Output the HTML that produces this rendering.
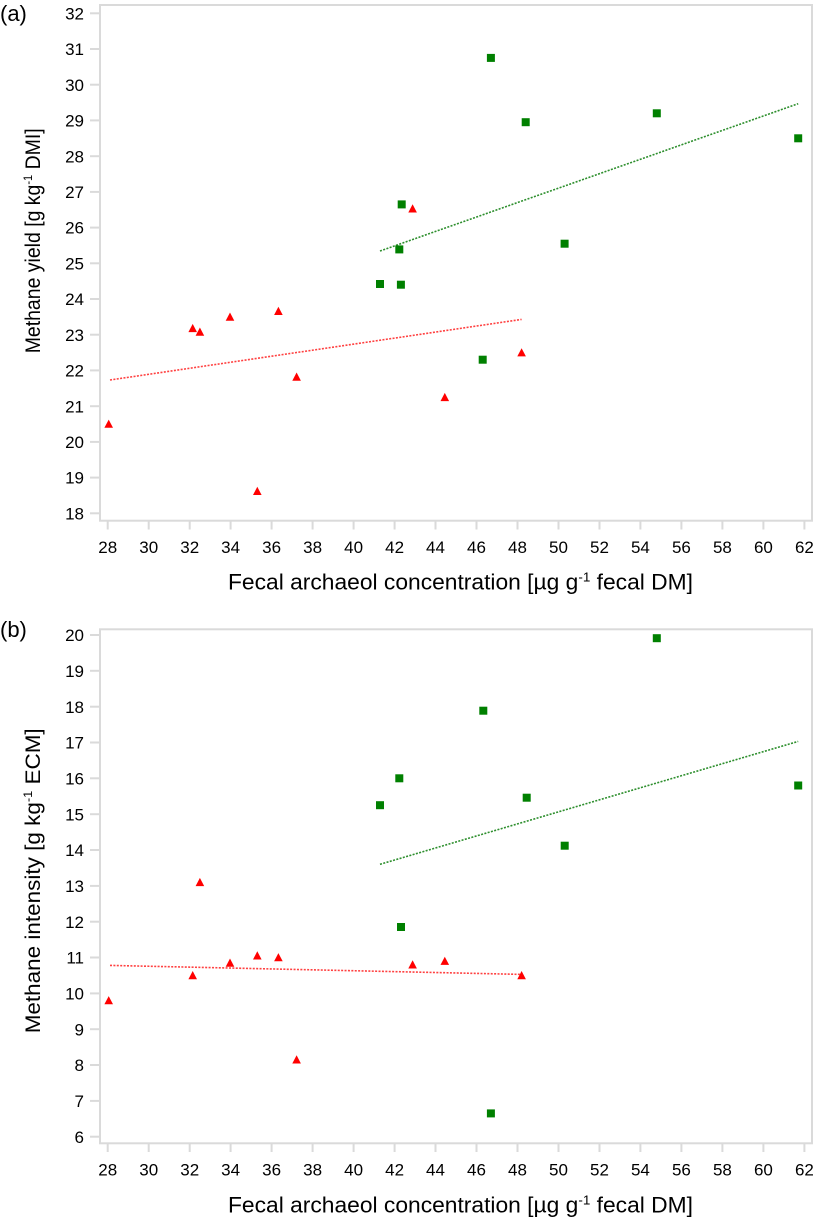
<!DOCTYPE html>
<html>
<head>
<meta charset="utf-8">
<style>
  html, body { margin: 0; padding: 0; background: #fff; }
  svg { display: block; }
  text { font-family: "Liberation Sans", Arial, sans-serif; fill: #000; }
</style>
</head>
<body>
<svg width="814" height="1217" viewBox="0 0 814 1217" xmlns="http://www.w3.org/2000/svg">
  <rect x="0" y="0" width="814" height="1217" fill="#fff"/>

  <!-- ================= PANEL (a) ================= -->
  <text x="0" y="21" font-size="22">(a)</text>

  <rect x="100" y="5" width="712" height="515.7" fill="none" stroke="#dadada" stroke-width="2"/>

  <g stroke="#dadada" stroke-width="2">
    <line x1="90" y1="13.3" x2="100" y2="13.3"/>
    <line x1="90" y1="49.0" x2="100" y2="49.0"/>
    <line x1="90" y1="84.7" x2="100" y2="84.7"/>
    <line x1="90" y1="120.4" x2="100" y2="120.4"/>
    <line x1="90" y1="156.2" x2="100" y2="156.2"/>
    <line x1="90" y1="191.9" x2="100" y2="191.9"/>
    <line x1="90" y1="227.6" x2="100" y2="227.6"/>
    <line x1="90" y1="263.3" x2="100" y2="263.3"/>
    <line x1="90" y1="299.0" x2="100" y2="299.0"/>
    <line x1="90" y1="334.7" x2="100" y2="334.7"/>
    <line x1="90" y1="370.4" x2="100" y2="370.4"/>
    <line x1="90" y1="406.2" x2="100" y2="406.2"/>
    <line x1="90" y1="441.9" x2="100" y2="441.9"/>
    <line x1="90" y1="477.6" x2="100" y2="477.6"/>
    <line x1="90" y1="513.3" x2="100" y2="513.3"/>
  </g>
  <g font-size="17" text-anchor="end">
    <text x="84" y="19.4">32</text>
    <text x="84" y="55.1">31</text>
    <text x="84" y="90.8">30</text>
    <text x="84" y="126.5">29</text>
    <text x="84" y="162.3">28</text>
    <text x="84" y="198.0">27</text>
    <text x="84" y="233.7">26</text>
    <text x="84" y="269.4">25</text>
    <text x="84" y="305.1">24</text>
    <text x="84" y="340.8">23</text>
    <text x="84" y="376.5">22</text>
    <text x="84" y="412.3">21</text>
    <text x="84" y="448.0">20</text>
    <text x="84" y="483.7">19</text>
    <text x="84" y="519.4">18</text>
  </g>

  <g stroke="#dadada" stroke-width="2">
    <line x1="107.7" y1="520.7" x2="107.7" y2="529.5"/>
    <line x1="148.7" y1="520.7" x2="148.7" y2="529.5"/>
    <line x1="189.7" y1="520.7" x2="189.7" y2="529.5"/>
    <line x1="230.6" y1="520.7" x2="230.6" y2="529.5"/>
    <line x1="271.6" y1="520.7" x2="271.6" y2="529.5"/>
    <line x1="312.6" y1="520.7" x2="312.6" y2="529.5"/>
    <line x1="353.6" y1="520.7" x2="353.6" y2="529.5"/>
    <line x1="394.6" y1="520.7" x2="394.6" y2="529.5"/>
    <line x1="435.5" y1="520.7" x2="435.5" y2="529.5"/>
    <line x1="476.5" y1="520.7" x2="476.5" y2="529.5"/>
    <line x1="517.5" y1="520.7" x2="517.5" y2="529.5"/>
    <line x1="558.5" y1="520.7" x2="558.5" y2="529.5"/>
    <line x1="599.5" y1="520.7" x2="599.5" y2="529.5"/>
    <line x1="640.4" y1="520.7" x2="640.4" y2="529.5"/>
    <line x1="681.4" y1="520.7" x2="681.4" y2="529.5"/>
    <line x1="722.4" y1="520.7" x2="722.4" y2="529.5"/>
    <line x1="763.4" y1="520.7" x2="763.4" y2="529.5"/>
    <line x1="804.4" y1="520.7" x2="804.4" y2="529.5"/>
  </g>
  <g font-size="17" text-anchor="middle">
    <text x="107.7" y="553">28</text>
    <text x="148.7" y="553">30</text>
    <text x="189.7" y="553">32</text>
    <text x="230.6" y="553">34</text>
    <text x="271.6" y="553">36</text>
    <text x="312.6" y="553">38</text>
    <text x="353.6" y="553">40</text>
    <text x="394.6" y="553">42</text>
    <text x="435.5" y="553">44</text>
    <text x="476.5" y="553">46</text>
    <text x="517.5" y="553">48</text>
    <text x="558.5" y="553">50</text>
    <text x="599.5" y="553">52</text>
    <text x="640.4" y="553">54</text>
    <text x="681.4" y="553">56</text>
    <text x="722.4" y="553">58</text>
    <text x="763.4" y="553">60</text>
    <text x="804.4" y="553">62</text>
  </g>

  <text x="228" y="589.3" font-size="22" textLength="465" lengthAdjust="spacingAndGlyphs">Fecal archaeol concentration [µg g<tspan font-size="13" dy="-8">-1</tspan><tspan dy="8"> fecal DM]</tspan></text>
  <text transform="translate(40,353.3) rotate(-90)" x="0" y="0" font-size="21" textLength="225" lengthAdjust="spacingAndGlyphs">Methane yield [g kg<tspan font-size="12" dy="-8">-1</tspan><tspan dy="8"> DMI]</tspan></text>

  <line x1="110" y1="380" x2="521.6" y2="319.4" stroke="#ff4040" stroke-width="1.6" stroke-dasharray="2 1.4"/>
  <line x1="380" y1="251" x2="798.2" y2="103.7" stroke="#2e8f2e" stroke-width="1.6" stroke-dasharray="2 1.4"/>

  <g fill="#ff0000">
    <polygon points="104.4,427.8 113.0,427.8 108.7,419.6"/>
    <polygon points="188.4,332.1 197.0,332.1 192.7,323.9"/>
    <polygon points="195.6,335.7 204.2,335.7 199.9,327.5"/>
    <polygon points="225.7,320.7 234.3,320.7 230.0,312.5"/>
    <polygon points="253.0,495.0 261.6,495.0 257.3,486.8"/>
    <polygon points="274.1,315.0 282.7,315.0 278.4,306.8"/>
    <polygon points="292.3,380.7 300.9,380.7 296.6,372.5"/>
    <polygon points="408.3,212.5 416.9,212.5 412.6,204.3"/>
    <polygon points="440.5,401.1 449.1,401.1 444.8,392.9"/>
    <polygon points="517.3,356.4 525.9,356.4 521.6,348.2"/>
  </g>

  <g fill="#008000">
    <rect x="486.9" y="53.9" width="8" height="8"/>
    <rect x="521.7" y="118.2" width="8" height="8"/>
    <rect x="652.8" y="109.3" width="8" height="8"/>
    <rect x="794.2" y="134.3" width="8" height="8"/>
    <rect x="397.7" y="200.4" width="8" height="8"/>
    <rect x="395.3" y="245.4" width="8" height="8"/>
    <rect x="376.0" y="280.0" width="8" height="8"/>
    <rect x="396.9" y="280.7" width="8" height="8"/>
    <rect x="560.6" y="239.7" width="8" height="8"/>
    <rect x="478.7" y="355.7" width="8" height="8"/>
  </g>

  <!-- ================= PANEL (b) ================= -->
  <text x="0" y="637" font-size="22">(b)</text>

  <rect x="100" y="629.3" width="712" height="514" fill="none" stroke="#dadada" stroke-width="2"/>

  <g stroke="#dadada" stroke-width="2">
    <line x1="90" y1="635.0" x2="100" y2="635.0"/>
    <line x1="90" y1="670.8" x2="100" y2="670.8"/>
    <line x1="90" y1="706.7" x2="100" y2="706.7"/>
    <line x1="90" y1="742.5" x2="100" y2="742.5"/>
    <line x1="90" y1="778.3" x2="100" y2="778.3"/>
    <line x1="90" y1="814.2" x2="100" y2="814.2"/>
    <line x1="90" y1="850.0" x2="100" y2="850.0"/>
    <line x1="90" y1="885.9" x2="100" y2="885.9"/>
    <line x1="90" y1="921.7" x2="100" y2="921.7"/>
    <line x1="90" y1="957.5" x2="100" y2="957.5"/>
    <line x1="90" y1="993.4" x2="100" y2="993.4"/>
    <line x1="90" y1="1029.2" x2="100" y2="1029.2"/>
    <line x1="90" y1="1065.0" x2="100" y2="1065.0"/>
    <line x1="90" y1="1100.9" x2="100" y2="1100.9"/>
    <line x1="90" y1="1136.7" x2="100" y2="1136.7"/>
  </g>
  <g font-size="17" text-anchor="end">
    <text x="84" y="641.1">20</text>
    <text x="84" y="676.9">19</text>
    <text x="84" y="712.8">18</text>
    <text x="84" y="748.6">17</text>
    <text x="84" y="784.4">16</text>
    <text x="84" y="820.3">15</text>
    <text x="84" y="856.1">14</text>
    <text x="84" y="892.0">13</text>
    <text x="84" y="927.8">12</text>
    <text x="84" y="963.6">11</text>
    <text x="84" y="999.5">10</text>
    <text x="84" y="1035.3">9</text>
    <text x="84" y="1071.1">8</text>
    <text x="84" y="1107.0">7</text>
    <text x="84" y="1142.8">6</text>
  </g>

  <g stroke="#dadada" stroke-width="2">
    <line x1="107.7" y1="1143.3" x2="107.7" y2="1152"/>
    <line x1="148.7" y1="1143.3" x2="148.7" y2="1152"/>
    <line x1="189.7" y1="1143.3" x2="189.7" y2="1152"/>
    <line x1="230.6" y1="1143.3" x2="230.6" y2="1152"/>
    <line x1="271.6" y1="1143.3" x2="271.6" y2="1152"/>
    <line x1="312.6" y1="1143.3" x2="312.6" y2="1152"/>
    <line x1="353.6" y1="1143.3" x2="353.6" y2="1152"/>
    <line x1="394.6" y1="1143.3" x2="394.6" y2="1152"/>
    <line x1="435.5" y1="1143.3" x2="435.5" y2="1152"/>
    <line x1="476.5" y1="1143.3" x2="476.5" y2="1152"/>
    <line x1="517.5" y1="1143.3" x2="517.5" y2="1152"/>
    <line x1="558.5" y1="1143.3" x2="558.5" y2="1152"/>
    <line x1="599.5" y1="1143.3" x2="599.5" y2="1152"/>
    <line x1="640.4" y1="1143.3" x2="640.4" y2="1152"/>
    <line x1="681.4" y1="1143.3" x2="681.4" y2="1152"/>
    <line x1="722.4" y1="1143.3" x2="722.4" y2="1152"/>
    <line x1="763.4" y1="1143.3" x2="763.4" y2="1152"/>
    <line x1="804.4" y1="1143.3" x2="804.4" y2="1152"/>
  </g>
  <g font-size="17" text-anchor="middle">
    <text x="107.7" y="1175.5">28</text>
    <text x="148.7" y="1175.5">30</text>
    <text x="189.7" y="1175.5">32</text>
    <text x="230.6" y="1175.5">34</text>
    <text x="271.6" y="1175.5">36</text>
    <text x="312.6" y="1175.5">38</text>
    <text x="353.6" y="1175.5">40</text>
    <text x="394.6" y="1175.5">42</text>
    <text x="435.5" y="1175.5">44</text>
    <text x="476.5" y="1175.5">46</text>
    <text x="517.5" y="1175.5">48</text>
    <text x="558.5" y="1175.5">50</text>
    <text x="599.5" y="1175.5">52</text>
    <text x="640.4" y="1175.5">54</text>
    <text x="681.4" y="1175.5">56</text>
    <text x="722.4" y="1175.5">58</text>
    <text x="763.4" y="1175.5">60</text>
    <text x="804.4" y="1175.5">62</text>
  </g>

  <text x="228" y="1212.7" font-size="22" textLength="465" lengthAdjust="spacingAndGlyphs">Fecal archaeol concentration [µg g<tspan font-size="13" dy="-8">-1</tspan><tspan dy="8"> fecal DM]</tspan></text>
  <text transform="translate(40,1033.3) rotate(-90)" x="0" y="0" font-size="21" textLength="305" lengthAdjust="spacingAndGlyphs">Methane intensity [g kg<tspan font-size="12" dy="-8">-1</tspan><tspan dy="8"> ECM]</tspan></text>

  <line x1="110" y1="965.4" x2="521.6" y2="974.4" stroke="#ff4040" stroke-width="1.6" stroke-dasharray="2 1.4"/>
  <line x1="380" y1="864.3" x2="798.2" y2="741.4" stroke="#2e8f2e" stroke-width="1.6" stroke-dasharray="2 1.4"/>

  <g fill="#ff0000">
    <polygon points="104.4,1004.3 113.0,1004.3 108.7,996.1"/>
    <polygon points="188.4,979.2 197.0,979.2 192.7,971.0"/>
    <polygon points="195.6,886.1 204.2,886.1 199.9,877.9"/>
    <polygon points="225.7,966.7 234.3,966.7 230.0,958.5"/>
    <polygon points="253.0,959.5 261.6,959.5 257.3,951.3"/>
    <polygon points="274.1,961.3 282.7,961.3 278.4,953.1"/>
    <polygon points="292.3,1063.5 300.9,1063.5 296.6,1055.3"/>
    <polygon points="408.3,968.5 416.9,968.5 412.6,960.3"/>
    <polygon points="440.5,964.9 449.1,964.9 444.8,956.7"/>
    <polygon points="517.3,979.2 525.9,979.2 521.6,971.0"/>
  </g>

  <g fill="#008000">
    <rect x="652.8" y="634.2" width="8" height="8"/>
    <rect x="479.3" y="706.7" width="8" height="8"/>
    <rect x="395.3" y="774.3" width="8" height="8"/>
    <rect x="376.0" y="801.2" width="8" height="8"/>
    <rect x="522.7" y="793.7" width="8" height="8"/>
    <rect x="794.2" y="781.5" width="8" height="8"/>
    <rect x="560.7" y="841.7" width="8" height="8"/>
    <rect x="397.0" y="923.0" width="8" height="8"/>
    <rect x="486.9" y="1109.4" width="8" height="8"/>
  </g>
</svg>
</body>
</html>
